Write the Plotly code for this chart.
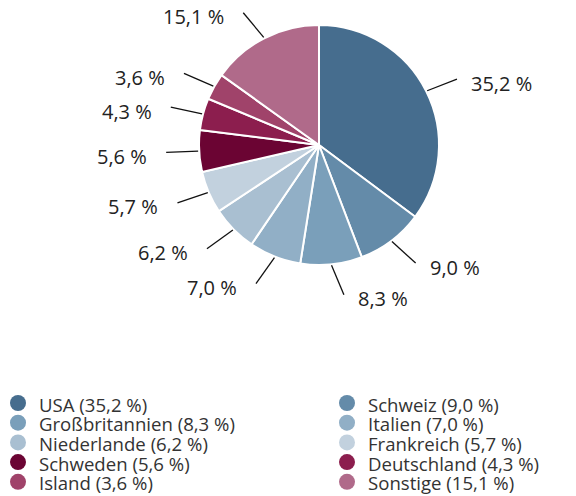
import math
import plotly.graph_objects as go

countries = ["USA", "Schweiz", "Großbritannien", "Italien", "Niederlande",
             "Frankreich", "Schweden", "Deutschland", "Island", "Sonstige"]
shares = [35.2, 9.0, 8.3, 7.0, 6.2, 5.7, 5.6, 4.3, 3.6, 15.1]
colors = ["#466d8e", "#648ba9", "#7a9fba", "#91afc6", "#a9bfd1",
          "#c2d1de", "#6b0433", "#8c1e4e", "#a0436a", "#b06a8a"]

W, H = 576, 496
OFF = 8  # page body margin of the html output
CX, CY, R = 319, 145, 120
FONT = "Open Sans"
TXT = "#222222"


def px(x):
    return (x - OFF) / W


def py(y):
    return 1 - (y - OFF) / H


def fmt(v):
    return f"{v:.1f}".replace(".", ",") + " %"


fig = go.Figure()
fig.add_trace(go.Pie(
    labels=countries, values=shares, sort=False, direction="clockwise",
    rotation=0, marker=dict(colors=colors, line=dict(color="white", width=2)),
    textinfo="none", hoverinfo="label+percent", showlegend=False,
    domain=dict(x=[px(CX - R), px(CX + R)], y=[py(CY + R), py(CY - R)]),
))

shapes, annots = [], []

# leader lines and value labels
total = sum(shares)
cum = 0.0
for v in shares:
    mid = (cum + v / 2) / total * 360.0
    cum += v
    horiz = 90.0 if mid < 180 else 270.0
    ang = horiz + 0.8 * (mid - horiz)
    m, a = math.radians(mid), math.radians(ang)
    x1, y1 = CX + 121 * math.sin(m), CY - 121 * math.cos(m)
    x2, y2 = x1 + 32 * math.sin(a), y1 - 32 * math.cos(a)
    shapes.append(dict(type="line", xref="paper", yref="paper",
                       x0=px(x1), y0=py(y1), x1=px(x2), y1=py(y2),
                       line=dict(color="#111111", width=1.3)))
    right = mid < 180
    tx = x2 + 12 if right else x2 - 17
    annots.append(dict(xref="paper", yref="paper", x=px(tx), y=py(y2 + 4),
                       text=fmt(v), showarrow=False,
                       xanchor="left" if right else "right", yanchor="middle",
                       font=dict(family=FONT, size=20, color=TXT)))

# two-column legend with round markers
COL_X = [18, 347]
ROW0, ROW_GAP, DOT = 403, 19.7, 16
for i, (c, v, col) in enumerate(zip(countries, shares, colors)):
    cx = COL_X[i % 2]
    cy = ROW0 + (i // 2) * ROW_GAP
    shapes.append(dict(type="circle", xref="paper", yref="paper",
                       x0=px(cx - DOT / 2), x1=px(cx + DOT / 2),
                       y0=py(cy + DOT / 2), y1=py(cy - DOT / 2),
                       fillcolor=col, line=dict(width=0)))
    annots.append(dict(xref="paper", yref="paper", x=px(cx + 19),
                       y=py(cy + 1), text=f"{c} ({fmt(v)})",
                       showarrow=False, xanchor="left", yanchor="middle",
                       font=dict(family=FONT, size=18.6, color="#333333")))

fig.update_layout(
    width=W, height=H, margin=dict(l=0, r=0, t=0, b=0),
    paper_bgcolor="white", plot_bgcolor="white", showlegend=False,
    shapes=shapes, annotations=annots,
)
fig.write_html("out.html")
